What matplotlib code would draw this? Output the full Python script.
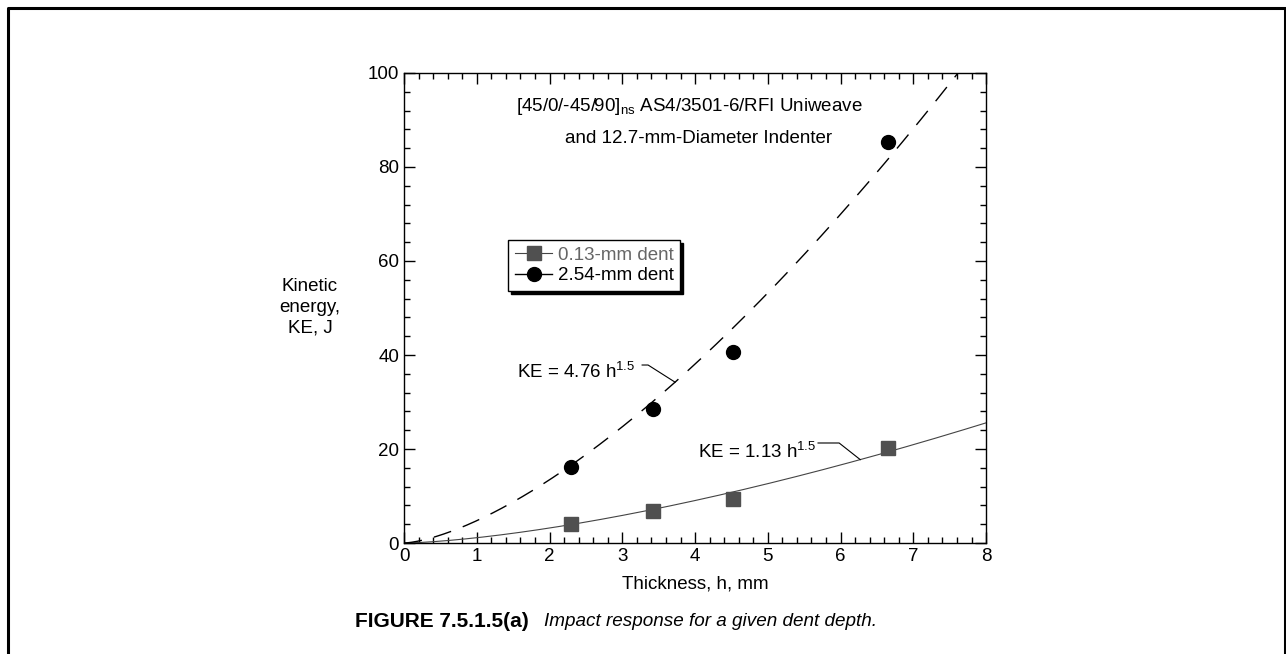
import numpy as np
import matplotlib.pyplot as plt
from matplotlib.lines import Line2D

plt.rcParams['font.family'] = ['Liberation Sans', 'DejaVu Sans']
plt.rcParams['mathtext.fontset'] = 'custom'
plt.rcParams['mathtext.rm'] = 'Liberation Sans'
plt.rcParams['mathtext.default'] = 'regular'

# measured points
thickness = [2.30, 3.42, 4.52, 6.65]
ke_013 = [4.0, 6.8, 9.3, 20.2]
ke_254 = [16.2, 28.5, 40.7, 85.3]

# fitted KE = c * h^1.5
coef_013 = 1.13
coef_254 = 4.76
exponent = 1.5

FS = 13.5

fig = plt.figure(figsize=(12.86, 6.54), dpi=100)
ax = fig.add_axes([0.3142, 0.1697, 0.4526, 0.7187])

h = np.linspace(0, 8, 400)
ax.plot(h, coef_013 * h ** exponent, '-', color='#444444', lw=0.8)
ax.plot(h, coef_254 * h ** exponent, color='black', lw=1.0, dashes=(13, 9))

ax.plot(thickness, ke_013, 's', color='#505050', ms=10, label='0.13-mm dent')
ax.plot(thickness, ke_254, 'o', color='black', ms=10, label='2.54-mm dent')

ax.set_xlim(0, 8)
ax.set_ylim(0, 100)
ax.set_xticks(np.arange(0, 9, 1))
ax.set_yticks(np.arange(0, 101, 20))
ax.set_xticks(np.arange(0, 8.01, 0.2), minor=True)
ax.set_yticks(np.arange(0, 101, 4), minor=True)
ax.tick_params(which='both', direction='in', top=True, right=True, labelsize=FS)
ax.tick_params(which='major', length=8, width=1)
ax.tick_params(which='minor', length=4.5, width=1)
for s in ax.spines.values():
    s.set_linewidth(1.0)

# legend with the line running through the marker
handles = [
    Line2D([], [], color='#444444', lw=0.8, marker='s', markerfacecolor='#505050',
           markeredgecolor='#505050', ms=10),
    Line2D([], [], color='black', lw=1.0, marker='o', ms=10),
]
leg = ax.legend(handles, ['0.13-mm dent', '2.54-mm dent'], loc='upper left',
                bbox_to_anchor=(0.179, 0.645), borderaxespad=0, fontsize=FS,
                frameon=True, fancybox=False, framealpha=1, edgecolor='black',
                shadow={'color': 'black', 'alpha': 1}, handlelength=2.0,
                handletextpad=0.3, borderpad=0.35, labelspacing=0.2)
leg.get_frame().set_linewidth(1.0)
leg.get_texts()[0].set_color('#666666')

# equation labels with leader lines
h_up = 3.725
ax.plot([3.272, 3.354, h_up], [37.87, 37.87, coef_254 * h_up ** exponent],
        color='black', lw=0.8)
ax.text(1.55, 36.4, 'KE = 4.76 h$^{1.5}$', fontsize=FS, va='center', ha='left')

h_lo = 6.27
ax.plot([5.69, 5.98, h_lo], [21.28, 21.28, coef_013 * h_lo ** exponent],
        color='black', lw=0.8)
ax.text(4.04, 19.4, 'KE = 1.13 h$^{1.5}$', fontsize=FS, va='center', ha='left')

ax.text(3.92, 92.8, '[45/0/-45/90]$_{ns}$ AS4/3501-6/RFI Uniweave', fontsize=FS,
        ha='center', va='center')
ax.text(4.05, 86.1, 'and 12.7-mm-Diameter Indenter', fontsize=FS,
        ha='center', va='center')

ax.set_xlabel('Thickness, h, mm', fontsize=FS, labelpad=8)
fig.text(0.241, 0.53, 'Kinetic\nenergy,\nKE, J', fontsize=FS, ha='center',
         va='center', linespacing=1.28)

fig.text(0.276, 0.05, 'FIGURE 7.5.1.5(a)', fontsize=15, fontweight='bold',
         ha='left', va='center')
fig.text(0.423, 0.05, 'Impact response for a given dent depth.', fontsize=13.6,
         style='italic', ha='left', va='center')

# outer frame, open at the bottom
fx0, fx1, fy0, fy1 = 7.5 / 1286, 1284.5 / 1286, 0.0, 1 - 7.5 / 654
fig.add_artist(Line2D([fx0, fx0, fx1, fx1], [fy0, fy1, fy1, fy0],
                      transform=fig.transFigure, color='black', lw=2.2))

fig.savefig('out.png', dpi=100)
